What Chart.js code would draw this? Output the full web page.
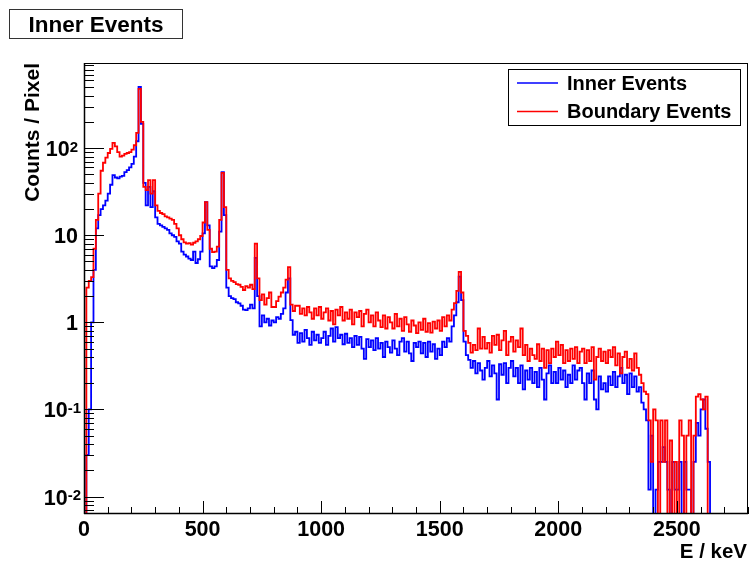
<!DOCTYPE html>
<html>
<head>
<meta charset="utf-8">
<script src="https://cdn.jsdelivr.net/npm/chart.js@4/dist/chart.umd.min.js"></script>
<style>
  html, body { margin: 0; padding: 0; background: #fff; }
  canvas { display: block; }
</style>
</head>
<body>
<canvas id="grafico" width="750" height="563"></canvas>
<script>
// histogram bins: 10 keV wide, starting at 0 keV
const binStart = 0;
const binWidth = 10;

// Inner events, counts / pixel per bin (one row = 100 keV)
const innerCounts = [
  0, 0.03, 0.1, 1.0, 4.0, 12, 17, 20, 22, 25,
  30, 38, 49, 46, 45, 47, 48, 53, 56, 60,
  66, 80, 120, 505, 190, 40, 22, 36, 21, 32,
  16, 13.5, 13, 12.5, 12, 11.5, 10.5, 10, 9.6, 8.5,
  8, 6.5, 6, 5.7, 5.4, 5.2, 6.5, 4.8, 5.3, 6.5,
  10.5, 24, 13, 4.4, 4.2, 4.4, 5.2, 11, 53, 17,
  2.5, 2.0, 1.9, 1.85, 1.7, 1.65, 1.55, 1.4, 1.38, 1.45,
  1.6, 1.45, 5.5, 2.0, 0.9, 1.2, 1.0, 1.1, 0.92, 1.05,
  1.0, 1.15, 1.1, 1.25, 1.45, 2.2, 3.2, 1.06, 0.72, 0.78,
  0.58, 0.75, 0.6, 0.82, 0.66, 0.55, 0.78, 0.62, 0.72, 0.58,
  0.66, 0.78, 0.55, 0.7, 0.85, 0.6, 0.88, 0.66, 0.72, 0.56,
  0.74, 0.58, 0.66, 0.52, 0.7, 0.55, 0.68, 0.5, 0.38, 0.64,
  0.52, 0.62, 0.48, 0.66, 0.5, 0.58, 0.4, 0.6, 0.52, 0.45,
  0.62, 0.5, 0.42, 0.6, 0.66, 0.46, 0.6, 0.44, 0.36, 0.58,
  0.52, 0.6, 0.44, 0.58, 0.4, 0.6, 0.46, 0.56, 0.38, 0.5,
  0.42, 0.6, 0.52, 0.66, 0.6, 0.9, 1.2, 1.7, 3.35, 1.8,
  0.6, 0.42, 0.37, 0.3, 0.36, 0.26, 0.34, 0.28, 0.22, 0.3,
  0.36, 0.24, 0.32, 0.26, 0.13, 0.33, 0.25, 0.34, 0.2, 0.3,
  0.36, 0.24, 0.3, 0.2, 0.32, 0.17, 0.28, 0.22, 0.3, 0.2,
  0.27, 0.18, 0.3, 0.22, 0.13, 0.26, 0.32, 0.2, 0.27, 0.2,
  0.3, 0.22, 0.28, 0.18, 0.25, 0.2, 0.32, 0.22, 0.28, 0.3,
  0.2, 0.13, 0.26, 0.2, 0.28, 0.13, 0.1, 0.24, 0.17, 0.2,
  0.16, 0.24, 0.19, 0.27, 0.18, 0.24, 0.3, 0.2, 0.25, 0.15,
  0.26, 0.18, 0.24, 0.16, 0.18, 0.12, 0.1, 0.075, 0.012, 0.05,
  0, 0.012, 0.025, 0.025, 0.037, 0.025, 0.012, 0, 0.025, 0.012,
  0.012, 0.025, 0, 0.025, 0.012, 0.012, 0, 0.025, 0.07, 0.05,
  0.1, 0.13, 0.06, 0.025, 0, 0, 0, 0, 0, 0,
  0, 0, 0, 0, 0, 0, 0, 0, 0, 0
];

// Boundary events, counts / pixel per bin
const boundaryCounts = [
  0, 2.5, 3.0, 3.3, 7, 15, 30, 55, 68, 78,
  88, 98, 115, 105, 90, 80, 82, 86, 88, 90,
  96, 108, 150, 480, 200, 36, 33, 43, 30, 43,
  22, 19, 18, 17.5, 16.5, 16, 15.5, 15, 13.5, 12,
  10, 9, 8.3, 8, 8.1, 7.8, 8.2, 8.5, 9, 9.8,
  14, 24, 11.5, 7, 6.4, 6.5, 7.4, 15, 52, 21,
  4.0, 3.2, 3.0, 2.9, 2.75, 2.7, 2.55, 2.35, 2.6, 2.5,
  2.7, 2.4, 8.0, 3.2, 1.8, 2.1, 1.6, 1.9, 2.2, 1.5,
  1.5, 1.75, 1.97, 2.2, 2.5, 3.1, 4.3, 1.6, 1.35, 1.55,
  1.55, 1.25, 1.45, 1.2, 1.5, 1.3, 1.1, 1.45, 1.2, 1.5,
  1.1, 1.3, 1.45, 1.05, 1.35, 0.95, 1.4, 1.2, 1.5, 1.05,
  1.3, 1.1, 1.4, 0.95, 1.3, 1.15, 1.35, 0.9, 1.25, 1.4,
  1.0, 1.2, 0.9, 1.3, 1.05, 0.88, 1.2, 0.85, 1.15, 1.0,
  0.85, 1.25, 0.9, 1.1, 0.8, 1.15, 0.95, 0.78, 1.05, 0.92,
  0.75, 1.0, 0.82, 1.1, 0.78, 0.98, 0.76, 1.02, 0.85, 1.05,
  0.8, 1.15, 0.9, 1.2, 1.05, 1.4, 1.66, 2.3, 3.8, 2.2,
  0.8, 0.7, 0.58, 0.45, 0.55, 0.48, 0.85, 0.5, 0.68, 0.5,
  0.58, 0.45, 0.7, 0.55, 0.72, 0.48, 0.62, 0.8, 0.42, 0.6,
  0.68, 0.46, 0.62, 0.52, 0.85, 0.42, 0.55, 0.36, 0.5, 0.42,
  0.38, 0.56, 0.36, 0.5, 0.3, 0.48, 0.34, 0.5, 0.4, 0.6,
  0.42, 0.55, 0.34, 0.48, 0.36, 0.5, 0.38, 0.52, 0.34, 0.46,
  0.5, 0.34, 0.48, 0.36, 0.52, 0.22, 0.4, 0.5, 0.36, 0.46,
  0.34, 0.48, 0.4, 0.52, 0.32, 0.44, 0.26, 0.4, 0.46, 0.3,
  0.38, 0.28, 0.44, 0.3, 0.25, 0.2, 0.16, 0.15, 0.075, 0.025,
  0.1, 0.075, 0, 0.075, 0.025, 0.075, 0, 0.044, 0, 0.025,
  0, 0.075, 0.05, 0, 0.05, 0.075, 0, 0.05, 0.14, 0.15,
  0.13, 0.1, 0.14, 0, 0, 0, 0, 0, 0, 0,
  0, 0, 0, 0, 0, 0, 0, 0, 0, 0
];

// axis ranges and labels
const xMin = 0, xMax = 2800;
const yMin = 0.0063, yMax = 950;
const xTickLabels = [0, 500, 1000, 1500, 2000, 2500];
const yTickLabels = [
  { v: 0.01, base: '10', exp: '-2' },
  { v: 0.1, base: '10', exp: '-1' },
  { v: 1, base: '1', exp: '' },
  { v: 10, base: '10', exp: '' },
  { v: 100, base: '10', exp: '2' }
];
const seriesNames = ['Inner Events', 'Boundary Events'];
const seriesColors = ['#0000ff', '#ff0000'];
const plotTitle = 'Inner Events';
const xTitle = 'E / keV';
const yTitle = 'Counts / Pixel';

const FONT = '"Liberation Sans", Arial, Helvetica, sans-serif';

// bin contents -> step points (empty bins sit on the bottom of the log axis, like ROOT)
function toSteps(counts) {
  const pts = counts.map((c, i) => ({ x: binStart + i * binWidth, y: c > 0 ? c : yMin }));
  pts.push({ x: binStart + counts.length * binWidth, y: pts[pts.length - 1].y });
  return pts;
}

// frame, inward ticks, labels, title box and legend drawn ROOT style
const rootStyle = {
  id: 'rootStyle',
  afterDraw(chart) {
    const { ctx, chartArea: a, scales: { x, y } } = chart;
    ctx.save();
    ctx.strokeStyle = '#000';
    ctx.fillStyle = '#000';
    ctx.lineWidth = 1;

    // frame
    ctx.strokeRect(a.left + 0.5, a.top + 0.5, a.right - a.left - 1, a.bottom - a.top - 1);
    ctx.lineWidth = 1.5;
    ctx.beginPath();
    ctx.moveTo(a.left + 0.5, a.top); ctx.lineTo(a.left + 0.5, a.bottom);
    ctx.moveTo(a.left, a.bottom - 0.5); ctx.lineTo(a.right, a.bottom - 0.5);
    ctx.stroke();

    // x ticks
    ctx.lineWidth = 1;
    ctx.beginPath();
    for (let v = xMin; v <= xMax; v += 100) {
      const px = Math.round(x.getPixelForValue(v)) + 0.5;
      const len = v % 500 === 0 ? 13 : 7;
      ctx.moveTo(px, a.bottom);
      ctx.lineTo(px, a.bottom - len);
    }
    // y ticks (log)
    for (let e = -3; e <= 2; e++) {
      for (let k = 1; k <= 9; k++) {
        const v = k * Math.pow(10, e);
        if (v < yMin || v > yMax) continue;
        const py = Math.round(y.getPixelForValue(v)) + 0.5;
        const len = k === 1 ? 20 : 10;
        ctx.moveTo(a.left, py);
        ctx.lineTo(a.left + len, py);
      }
    }
    ctx.stroke();

    // x tick labels
    ctx.font = 'bold 21.5px ' + FONT;
    ctx.textAlign = 'center';
    ctx.textBaseline = 'alphabetic';
    xTickLabels.forEach(v => ctx.fillText(String(v), x.getPixelForValue(v), 536));

    // y tick labels with superscript exponents
    yTickLabels.forEach(t => {
      const py = y.getPixelForValue(t.v);
      const right = t.exp.startsWith('-') ? 81 : 78;
      ctx.font = 'bold 15px ' + FONT;
      const expW = t.exp ? ctx.measureText(t.exp).width : 0;
      ctx.font = 'bold 21.5px ' + FONT;
      ctx.textAlign = 'right';
      ctx.textBaseline = 'alphabetic';
      ctx.fillText(t.base, right - expW, py + 8);
      if (t.exp) {
        ctx.font = 'bold 15px ' + FONT;
        ctx.textAlign = 'left';
        ctx.fillText(t.exp, right - expW, py + 3.5);
      }
    });

    // axis titles
    ctx.font = 'bold 20.5px ' + FONT;
    ctx.textAlign = 'right';
    ctx.fillText(xTitle, 747, 558);
    ctx.save();
    ctx.translate(39, a.top);
    ctx.rotate(-Math.PI / 2);
    ctx.font = 'bold 21px ' + FONT;
    ctx.textAlign = 'right';
    ctx.fillText(yTitle, 0, 0);
    ctx.restore();

    // title box
    ctx.fillStyle = '#fff';
    ctx.fillRect(10, 10, 173, 28);
    ctx.strokeStyle = '#333';
    ctx.lineWidth = 1;
    ctx.strokeRect(9.5, 9.5, 173, 29);
    ctx.fillStyle = '#000';
    ctx.font = 'bold 22.5px ' + FONT;
    ctx.textAlign = 'center';
    ctx.fillText(plotTitle, 96, 32);

    // legend
    ctx.fillStyle = '#fff';
    ctx.fillRect(508, 69, 233, 57);
    ctx.strokeStyle = '#000';
    ctx.strokeRect(508.5, 69.5, 232, 56);
    const rows = [83, 111.5];
    seriesNames.forEach((name, i) => {
      ctx.strokeStyle = seriesColors[i];
      ctx.lineWidth = 1.5;
      ctx.beginPath();
      ctx.moveTo(517, rows[i]);
      ctx.lineTo(558, rows[i]);
      ctx.stroke();
      ctx.fillStyle = '#000';
      ctx.font = 'bold 20px ' + FONT;
      ctx.textAlign = 'left';
      ctx.textBaseline = 'middle';
      ctx.fillText(name, 567, rows[i] + 1);
    });
    ctx.restore();
  }
};

const ctx = document.getElementById('grafico').getContext('2d');
const grafico = new Chart(ctx, {
  type: 'line',
  data: {
    datasets: [
      {
        label: seriesNames[0],
        data: toSteps(innerCounts),
        borderColor: seriesColors[0],
        borderWidth: 1.8,
        stepped: 'before',
        pointRadius: 0,
        order: 1
      },
      {
        label: seriesNames[1],
        data: toSteps(boundaryCounts),
        borderColor: seriesColors[1],
        borderWidth: 1.8,
        stepped: 'before',
        pointRadius: 0,
        order: 0
      }
    ]
  },
  options: {
    responsive: false,
    devicePixelRatio: 1,
    animation: false,
    layout: { padding: { left: 84, top: 63, right: 2, bottom: 49 } },
    plugins: { legend: { display: false }, title: { display: false }, tooltip: { enabled: false } },
    scales: {
      x: { type: 'linear', min: xMin, max: xMax, display: false },
      y: { type: 'logarithmic', min: yMin, max: yMax, display: false }
    }
  },
  plugins: [rootStyle]
});
</script>
</body>
</html>
